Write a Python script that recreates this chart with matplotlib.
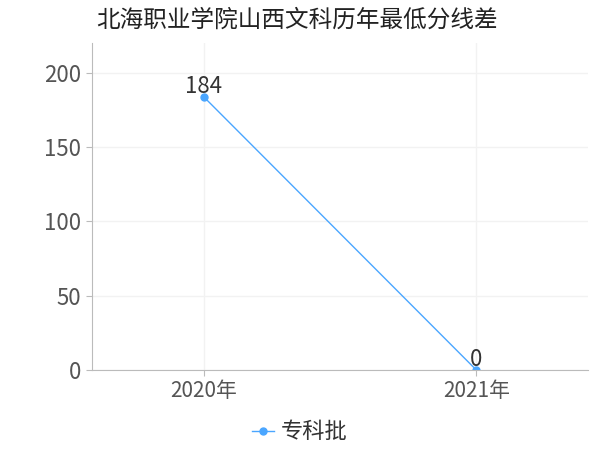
import matplotlib
matplotlib.use('Agg')
import matplotlib.pyplot as plt

plt.rcParams['font.family'] = ['Noto Sans CJK SC', 'DejaVu Sans']

years = ['2020年', '2021年']
scores = [184, 0]
series_name = '专科批'
title = '北海职业学院山西文科历年最低分线差'

line_color = '#4aa6ff'

fig = plt.figure(figsize=(6, 4.5), dpi=100)
ax = fig.add_axes([0.153, 0.178, 0.827, 0.726])

x = list(range(len(years)))
ax.plot(x, scores, color=line_color, linewidth=1, marker='o', markersize=5,
        label=series_name)
for xi, v in zip(x, scores):
    ax.annotate(str(v), (xi, v), xytext=(0, -1), textcoords='offset points',
                ha='center', va='bottom', fontsize=16, color='#333333')

ax.set_xlim(-0.41, 1.41)
ax.set_ylim(0, 220)
ax.set_xticks(x)
ax.set_xticklabels(years)
ax.set_yticks([0, 50, 100, 150, 200])

for side in ['top', 'right']:
    ax.spines[side].set_visible(False)
for side in ['left', 'bottom']:
    ax.spines[side].set_color('#bbbbbb')
ax.tick_params(axis='y', labelsize=16, colors='#555555', length=4, color='#bbbbbb')
ax.tick_params(axis='x', labelsize=15, colors='#555555', length=4, color='#bbbbbb')
ax.grid(True, color='#f2f2f2', linewidth=1)
ax.set_axisbelow(True)

fig.text(0.16, 0.955, title, fontsize=17, color='#222222', va='center', ha='left')

fig.legend(loc='center', bbox_to_anchor=(0.5, 0.04), frameon=False,
           fontsize=16, handlelength=1.0, handletextpad=0.3,
           labelcolor='#333333')

fig.savefig('out.png', dpi=100)
